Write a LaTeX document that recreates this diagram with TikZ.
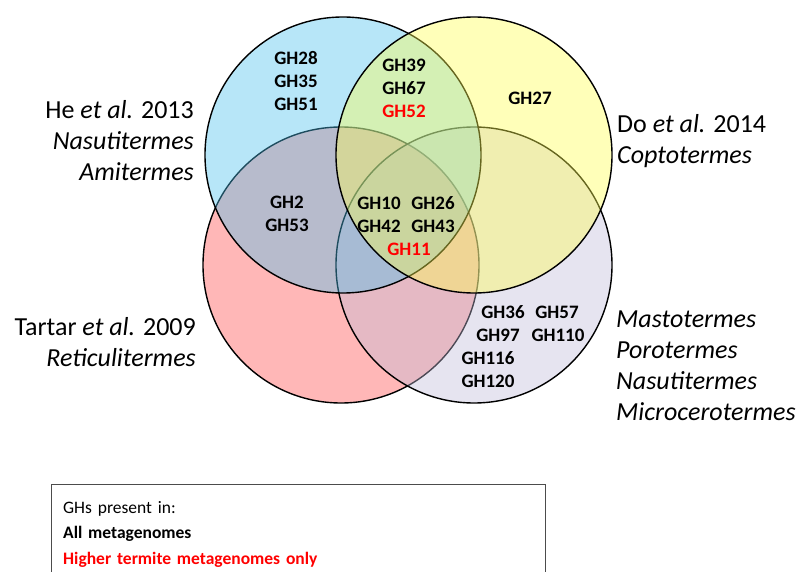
\documentclass[tikz,border=0pt]{standalone}
\usepackage{fontspec}
\setmainfont{Carlito}
\definecolor{vennBlue}{RGB}{75,192,237}
\definecolor{vennYellow}{RGB}{255,255,80}
\definecolor{vennRed}{RGB}{255,75,75}
\definecolor{vennPurple}{RGB}{192,187,217}
\definecolor{ghRed}{RGB}{255,0,0}
\begin{document}
\begin{tikzpicture}[x=1pt, y=-1pt,
  venn/.style={fill opacity=0.4, draw=black, line width=1.4pt},
  gh/.style={font=\fontsize{19}{23}\selectfont\bfseries, align=center, inner sep=0pt},
  study/.style={font=\fontsize{26}{31}\selectfont, inner sep=0pt}]

  \useasboundingbox (0,0) rectangle (801,572);

  % --- 1. circles (red, purple, blue, yellow) ---
  \def\rad{138pt}
  \filldraw[venn, fill=vennRed]    (341,265) circle (\rad);
  \filldraw[venn, fill=vennPurple] (474,265) circle (\rad);
  \filldraw[venn, fill=vennBlue]   (343,155) circle (\rad);
  \filldraw[venn, fill=vennYellow] (474,155) circle (\rad);

  % --- 2. GH families ---
  \node[gh] (heOnly)   at (296,81)  {GH28\\GH35\\GH51};
  \node[gh] (heDo)     at (404,88)  {GH39\\GH67\\\textcolor{ghRed}{GH52}};
  \node[gh] (doOnly)   at (530,98)  {GH27};
  \node[gh] (heTartar) at (287,214) {GH2\\GH53};
  \node[gh] (allA)     at (379,203) {GH10};
  \node[gh] (allB)     at (433,203) {GH26};
  \node[gh] (allC)     at (379,226) {GH42};
  \node[gh] (allD)     at (433,226) {GH43};
  \node[gh, ghRed] (allE) at (409,249) {GH11};
  \node[gh] (mgA)      at (503,312) {GH36};
  \node[gh] (mgB)      at (557,312) {GH57};
  \node[gh] (mgC)      at (498,335) {GH97};
  \node[gh] (mgD)      at (558,335) {GH110};
  \node[gh] (mgE)      at (488,358) {GH116};
  \node[gh] (mgF)      at (488,381) {GH120};

  % --- 3. studies ---
  \node[study, anchor=east, align=right] (he) at (194,141)
    {He \textit{et al.} 2013\\\textit{Nasutitermes}\\\textit{Amitermes}};
  \node[study, anchor=east, align=right] (tartar) at (196,342)
    {Tartar \textit{et al.} 2009\\\textit{Reticulitermes}};
  \node[study, anchor=west, align=left] (do) at (617,141)
    {Do \textit{et al.} 2014\\\textit{Coptotermes}};
  \node[study, anchor=west, align=left] (meta) at (616,366)
    {\textit{Mastotermes}\\\textit{Porotermes}\\\textit{Nasutitermes}\\\textit{Microcerotermes}};

  % --- 4. legend ---
  \node[draw=black!70, anchor=north west, minimum width=494pt, minimum height=100pt,
        text width=470pt, inner xsep=12pt, inner ysep=5pt, align=left,
        font=\fontsize{17.5}{25.5}\selectfont] (legend) at (51,484)
    {GHs present in:\\\textbf{All metagenomes}\\\textcolor{ghRed}{\textbf{Higher termite metagenomes only}}};

\end{tikzpicture}
\end{document}
